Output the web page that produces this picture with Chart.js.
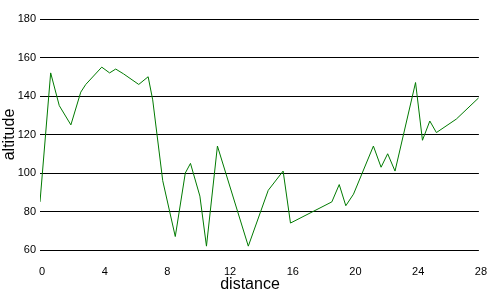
<!DOCTYPE html>
<html>
<head>
<meta charset="utf-8">
<script src="https://cdn.jsdelivr.net/npm/chart.js@4"></script>
<style>
  html, body { margin: 0; padding: 0; background: #fff; }
  #wrap { width: 500px; height: 300px; }
</style>
</head>
<body>
<div id="wrap"><canvas id="altitude-chart" width="500" height="300"></canvas></div>
<script>
const distance = [0, 0.68, 1.23, 1.97, 2.6, 2.92, 3.94, 4.44, 4.83, 5.33, 6.3, 6.9, 7.19, 7.83, 8.63,
  9.27, 9.6, 10.2, 10.62, 11.32, 13.29, 14.56, 15.51, 15.98, 18.62, 19.09, 19.51, 20, 21.27,
  21.76, 22.18, 22.65, 23.96, 24.4, 24.87, 25.29, 26.56, 27.98];
const altitude = [85, 152, 135, 125, 142, 146, 155, 152, 154, 151.5, 146, 150, 138, 96, 67,
  100, 105, 88, 62, 114, 62, 91, 101, 74, 85, 94, 83, 89, 114,
  103, 110, 101, 147, 117, 127, 121, 128, 139];
const xTicks = [0, 4, 8, 12, 16, 20, 24, 28];
const yTicks = [60, 80, 100, 120, 140, 160, 180];
const xTitle = 'distance';
const yTitle = 'altitude';

// x title sits centred on the whole canvas, not on the plot area
const xTitlePlugin = {
  id: 'xTitle',
  afterDraw(chart) {
    const ctx = chart.ctx;
    ctx.save();
    ctx.font = '16px "Liberation Sans"';
    ctx.fillStyle = '#000';
    ctx.textAlign = 'center';
    ctx.textBaseline = 'middle';
    ctx.fillText(xTitle, chart.width / 2, 285);
    ctx.restore();
  }
};

document.addEventListener('DOMContentLoaded', () => {
  const canvas = document.getElementById('altitude-chart');
  new Chart(canvas.getContext('2d'), {
    type: 'scatter',
    data: {
      datasets: [
        {
          label: yTitle,
          data: distance.map((d, i) => ({ x: d, y: altitude[i] })),
          showLine: true,
          borderColor: '#007a00',
          borderWidth: 1,
          pointRadius: 0,
          tension: 0,
          fill: false
        }
      ]
    },
    plugins: [xTitlePlugin],
    options: {
      responsive: false,
      animation: false,
      layout: { padding: { top: 19, right: 19, left: 0, bottom: 0 } },
      plugins: {
        legend: { display: false },
        tooltip: { enabled: false }
      },
      scales: {
        x: {
          type: 'linear',
          min: xTicks[0],
          max: xTicks[xTicks.length - 1],
          afterBuildTicks: (axis) => { axis.ticks = xTicks.map(v => ({ value: v })); },
          afterFit: (axis) => { axis.height = 50; },
          grid: { display: false, drawTicks: false },
          border: { display: false },
          ticks: {
            color: '#000',
            padding: 15,
            labelOffset: 2,
            font: { family: 'Liberation Sans', size: 11 }
          },
          title: { display: false }
        },
        y: {
          min: yTicks[0],
          max: yTicks[yTicks.length - 1],
          afterBuildTicks: (axis) => { axis.ticks = yTicks.map(v => ({ value: v })); },
          afterFit: (axis) => { axis.width = 40; },
          grid: { color: '#000', lineWidth: 1, drawTicks: false },
          border: { display: false },
          ticks: {
            color: '#000',
            padding: 4,
            font: { family: 'Liberation Sans', size: 11 }
          },
          title: {
            display: true,
            text: yTitle,
            color: '#000',
            padding: 0,
            font: { family: 'Liberation Sans', size: 16 }
          }
        }
      }
    }
  });
});
</script>
</body>
</html>
